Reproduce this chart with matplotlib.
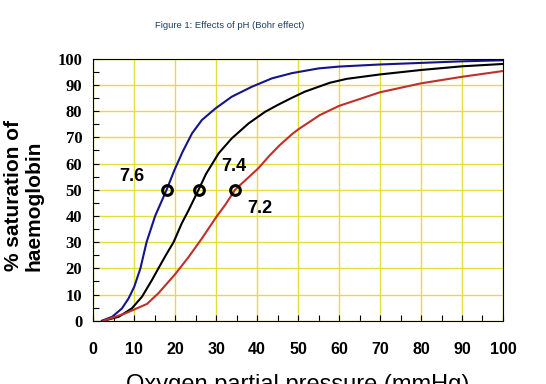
import matplotlib.pyplot as plt
from matplotlib.ticker import MultipleLocator

# oxygen dissociation curves
ph76_x = [2.1, 4.6, 7, 8.6, 10, 11.5, 13.0, 15.1, 17.9, 19.8, 21.8, 24.1, 26.5, 29.8,
          33.8, 38.7, 43.6, 48.5, 55, 60, 70, 80, 90, 100]
ph76_y = [0, 1.5, 4.7, 8.5, 13, 20, 30, 40, 50, 57.5, 64.5, 71.5, 76.6, 81,
          85.5, 89.3, 92.5, 94.5, 96.3, 97, 97.8, 98.4, 99, 99.4]

ph74_x = [2.5, 6.2, 9.4, 11.9, 14.3, 15.9, 17.7, 19.6, 21.6, 23.3, 25.7, 27.5, 30.6, 33.8,
          37.9, 42, 45.2, 48.5, 51.6, 57.7, 61.8, 70, 80, 90, 100]
ph74_y = [0, 1.5, 4.7, 9.2, 15.5, 20, 25, 30, 37.2, 42.3, 50, 56, 63.9, 69.6,
          75.3, 79.8, 82.5, 85.1, 87.4, 90.8, 92.3, 94, 95.7, 97.1, 98]

ph72_x = [2.5, 7.8, 13.1, 15.9, 20, 23.3, 26.5, 30.2, 32.2, 34.6, 40.3, 43, 45.5, 48.5, 50,
          55.3, 60, 70, 80, 90, 100]
ph72_y = [0, 2.8, 6.4, 10.5, 17.8, 24.4, 31.4, 40, 44.2, 50, 58.2, 63, 67, 71.2, 73,
          78.5, 82, 87.2, 90.6, 93.1, 95.3]

p50_x = [17.9, 25.7, 34.6]
p50_y = [50, 50, 50]

labels = ["7.6", "7.4", "7.2"]
label_x = [9.4, 34.2, 40.6]
label_y = [55, 58.8, 42.9]

fig = plt.figure(figsize=(5.46, 3.84), dpi=100)
ax = fig.add_axes([0.1709, 0.1648, 0.7503, 0.6823])

ax.plot(ph76_x, ph76_y, color="#14148c", lw=1.5)
ax.plot(ph74_x, ph74_y, color="black", lw=1.5)
ax.plot(ph72_x, ph72_y, color="#c0302a", lw=1.5)
ax.plot(p50_x, p50_y, "o", ms=7, mfc="none", mec="black", mew=2.2, zorder=5)

for t, lx, ly in zip(labels, label_x, label_y):
    ax.text(lx, ly, t, ha="center", va="center", fontsize=13,
            fontweight="bold", family="Liberation Sans")

ax.set_xlim(0, 100)
ax.set_ylim(0, 100)
ax.xaxis.set_major_locator(MultipleLocator(10))
ax.yaxis.set_major_locator(MultipleLocator(10))
ax.xaxis.set_minor_locator(MultipleLocator(5))
ax.yaxis.set_minor_locator(MultipleLocator(5))
ax.grid(True, which="major", color="#e6dc3c", lw=1)
ax.set_axisbelow(True)
ax.tick_params(which="both", direction="in", length=4, width=0.8)
ax.tick_params(axis="x", which="major", pad=15)
ax.tick_params(axis="y", which="major", pad=8)

for lab in ax.get_yticklabels():
    lab.set_family("Liberation Serif")
    lab.set_fontweight("bold")
    lab.set_fontsize(12)
for lab in ax.get_xticklabels():
    lab.set_family("Liberation Sans")
    lab.set_fontweight("bold")
    lab.set_fontsize(11.5)

fig.text(0.044, 0.49, "% saturation of\nhaemoglobin", rotation=90, ha="center", va="center",
         multialignment="left", fontsize=15, fontweight="bold", family="Liberation Sans",
         linespacing=1.12)
fig.text(0.421, 0.933, "Figure 1: Effects of pH (Bohr effect)", ha="center", va="center",
         fontsize=6.8, color="#1f3f60", family="Liberation Sans")
fig.text(0.545, 0.026, "Oxygen partial pressure (mmHg)", ha="center", va="top",
         fontsize=17, family="Liberation Sans")

fig.savefig("out.png", dpi=100)
